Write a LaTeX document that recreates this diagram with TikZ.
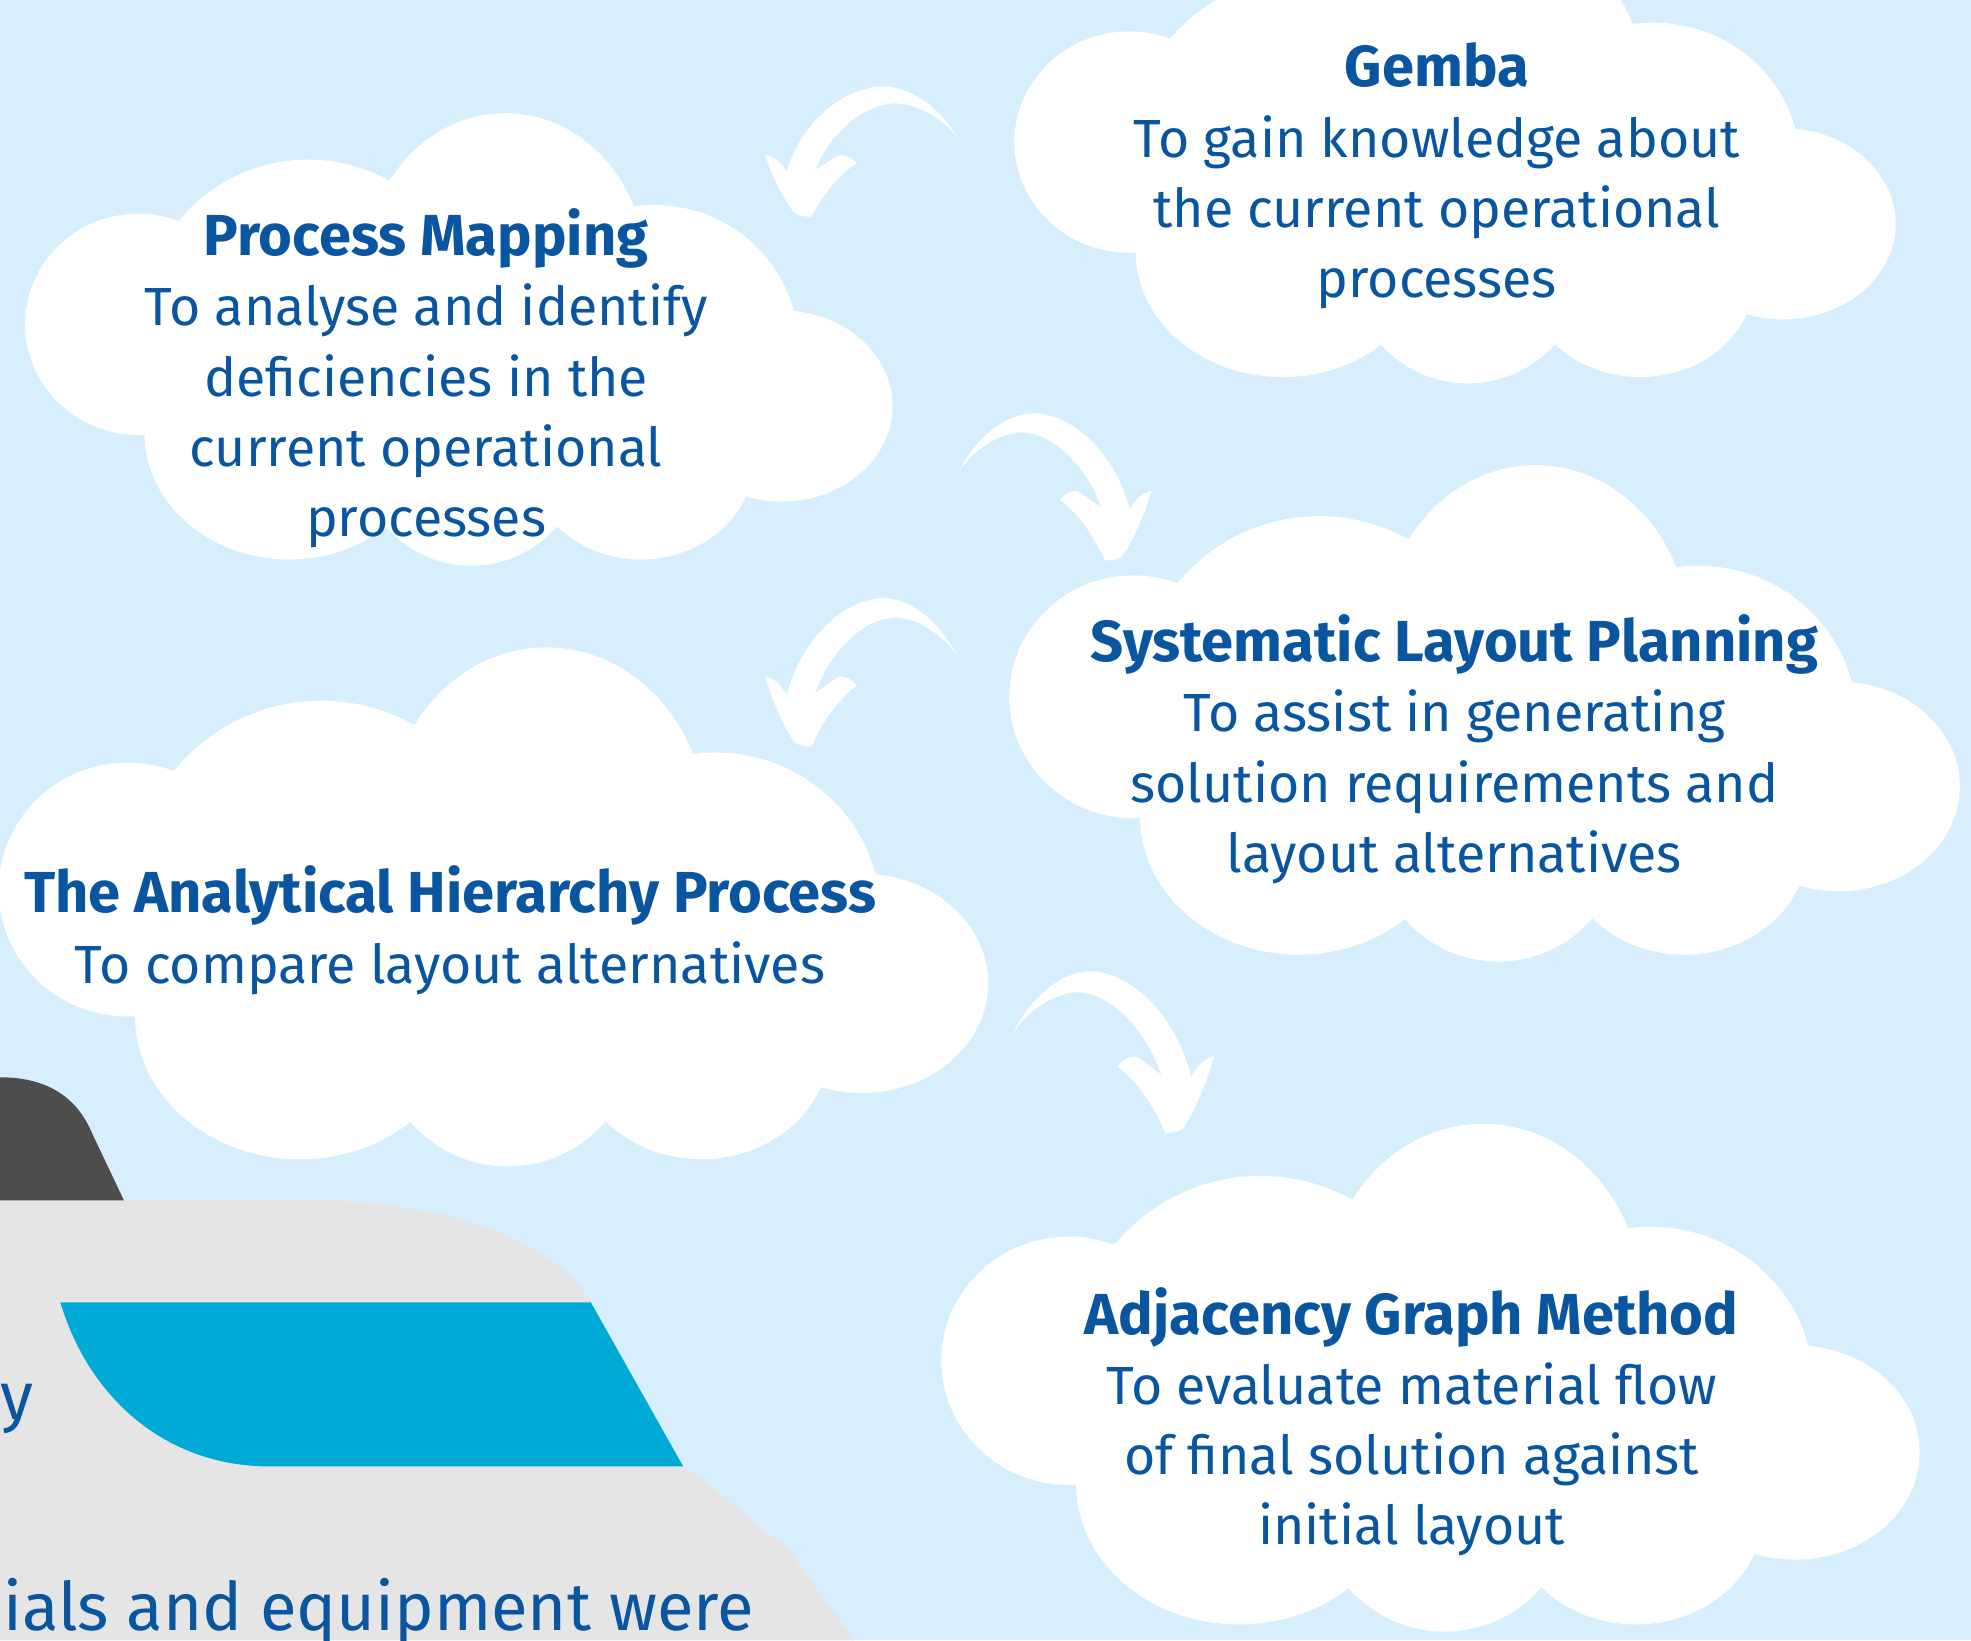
\documentclass[tikz,border=0pt]{standalone}
\usepackage{fontspec}
\setmainfont{Fira Sans}

\definecolor{skyblue}{HTML}{D7EEFD}
\definecolor{inkblue}{HTML}{0A55A0}
\definecolor{panelgrey}{HTML}{E5E5E5}
\definecolor{darkgrey}{HTML}{4D4D4D}
\definecolor{tealblue}{HTML}{00AAD6}

% one cloud, drawn as a bunch of white ellipses (local units, 689 x 360)
\newcommand{\cloudshape}{%
  \fill[white]
    (89,168)  ellipse [x radius=90,  y radius=88]   % left lobe
    (224,170) circle  [radius=133]                  % upper left
    (381,125) ellipse [x radius=112, y radius=125]  % top
    (499,185) ellipse [x radius=115, y radius=112]  % upper right
    (601,233) ellipse [x radius=88,  y radius=76]   % far right
    (489,275) ellipse [x radius=90,  y radius=80]   % bottom right
    (354,270) ellipse [x radius=90,  y radius=90]   % bottom middle
    (209,255) ellipse [x radius=115, y radius=100]  % bottom left
    (339,200) ellipse [x radius=250, y radius=110]; % body
}

% hand drawn curved arrow, pointing down-left (local units)
\newcommand{\curlyarrow}{%
  \fill[white] (650,200) .. controls (600,110) and (500,40) .. (410,50)
    .. controls (290,65) and (180,170) .. (140,305)
    .. controls (125,280) and (105,260) .. (75,255)
    .. controls (100,330) and (140,400) .. (160,425)
    .. controls (175,440) and (200,440) .. (215,440)
    .. controls (250,370) and (300,310) .. (350,280)
    .. controls (330,255) and (300,250) .. (285,262)
    -- (225,300)
    .. controls (270,190) and (370,100) .. (470,100)
    .. controls (550,105) and (620,160) .. (650,200) -- cycle;
}

% heading line inside a cloud
\newcommand{\cloudtitle}[1]{{\fontsize{13.1}{15.9}\selectfont\bfseries #1}}

\tikzset{
  cloudtext/.style={text=inkblue, align=center, inner sep=0pt,
    font=\fontsize{12.15}{15.9}\selectfont},
  bigtext/.style={text=inkblue, inner sep=0pt,
    font=\fontsize{15.15}{20}\selectfont},
}

\begin{document}
\begin{tikzpicture}[x=0.1mm, y=-0.1mm]

  % --- page ---
  \useasboundingbox (0,0) rectangle (1568,1305);
  \clip (0,0) rectangle (1568,1305);
  \fill[skyblue] (0,0) rectangle (1568,1305);

  % --- clouds ---
  \begin{scope}[shift={(21,90)}]
    \cloudshape
  \end{scope}
  \begin{scope}[shift={(808,-55)}, xscale=1.016]
    \cloudshape
  \end{scope}
  \begin{scope}[shift={(804,370)}, xscale=1.096, yscale=1.097]
    \cloudshape
  \end{scope}
  \begin{scope}[shift={(0,515)}, xscale=1.141, yscale=1.147]
    \cloudshape
  \end{scope}
  \begin{scope}[shift={(750,894)}, xscale=1.128, yscale=1.122]
    \cloudshape
  \end{scope}

  % --- arrows between the clouds ---
  \begin{scope}[shift={(588.7,55.7)}, scale=0.2652]
    \curlyarrow
  \end{scope}
  \begin{scope}[shift={(936,314)}, xscale=-0.2652, yscale=0.2997]
    \curlyarrow
  \end{scope}
  \begin{scope}[shift={(588.7,460.9)}, xscale=0.2652, yscale=0.3023]
    \curlyarrow
  \end{scope}
  \begin{scope}[shift={(986.7,756.5)}, xscale=-0.2785, yscale=0.3288]
    \curlyarrow
  \end{scope}

  % --- panel in the bottom left corner ---
  \fill[darkgrey] (0,857) .. controls (40,857) and (62,875) .. (73,901)
    -- (101,960) -- (0,960) -- cycle;
  \fill[panelgrey] (0,955) -- (250,955)
    .. controls (360,955) and (445,990) .. (470,1036)
    -- (543.5,1166.6)
    .. controls (570,1185) and (598,1208) .. (612,1222)
    -- (622,1226) -- (680,1305) -- (0,1305) -- cycle;
  \fill[tealblue] (48,1036) -- (470,1036) -- (543.5,1166.6) -- (215,1166.6)
    .. controls (130,1166.6) and (70,1110) .. (48,1036) -- cycle;

  % --- texts ---
  \node[cloudtext] (gemba) at (1143,140)
    {\cloudtitle{Gemba}\\To gain knowledge about\\the current operational\\processes};
  \node[cloudtext] (pmap) at (339,301)
    {\cloudtitle{Process Mapping}\\To analyse and identify\\deficiencies in the\\current operational\\processes};
  \node[cloudtext] (slp) at (1157,596)
    {\cloudtitle{Systematic Layout Planning}\\To assist in generating\\solution requirements and\\layout alternatives};
  \node[cloudtext] (ahp) at (358,740)
    {\cloudtitle{The Analytical Hierarchy Process}\\To compare layout alternatives};
  \node[cloudtext] (agm) at (1123,1131)
    {\cloudtitle{Adjacency Graph Method}\\To evaluate material flow\\of final solution against\\initial layout};

  \node[bigtext, anchor=base east] (ytail) at (27,1129) {y};
  \node[bigtext, anchor=base west] (cutline) at (2,1297) {ials and equipment were};

\end{tikzpicture}
\end{document}
